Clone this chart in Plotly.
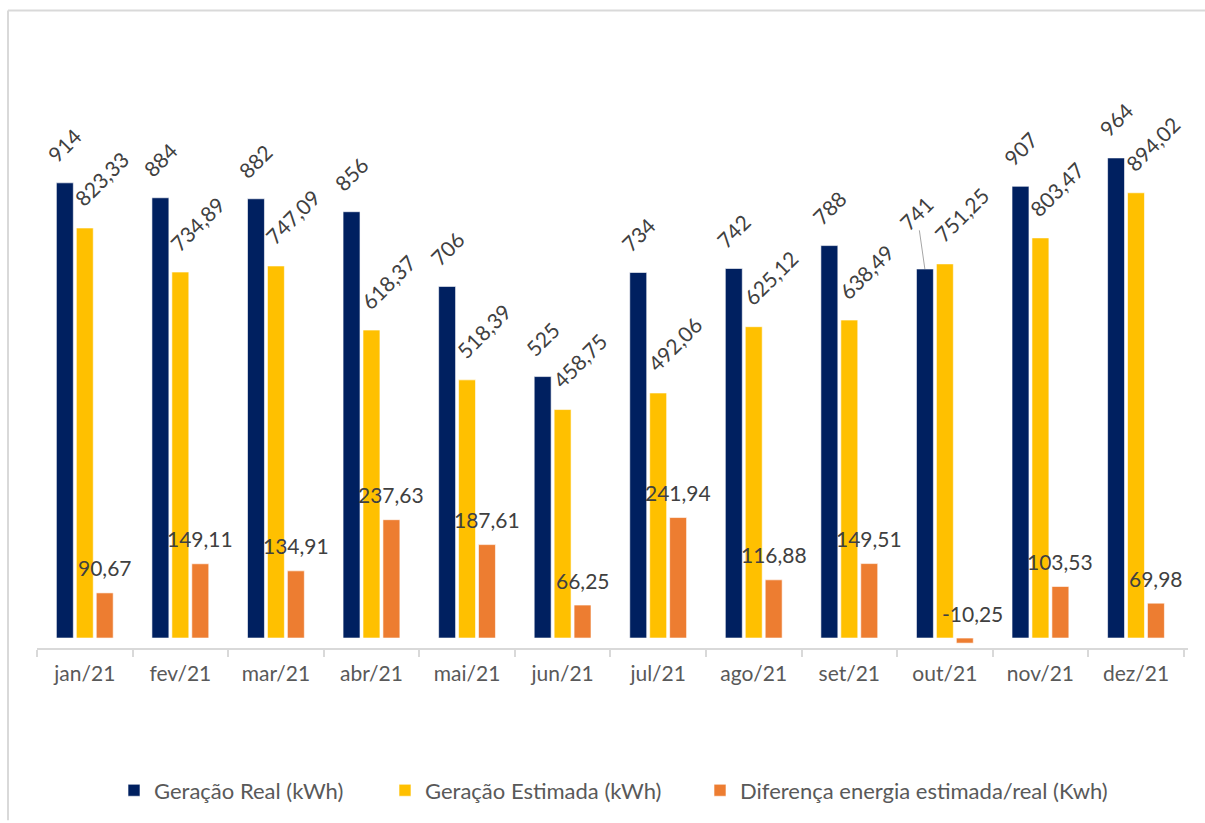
import plotly.graph_objects as go

# Monthly solar generation, 2021
months = ["jan/21", "fev/21", "mar/21", "abr/21", "mai/21", "jun/21",
          "jul/21", "ago/21", "set/21", "out/21", "nov/21", "dez/21"]
geracao_real = [914, 884, 882, 856, 706, 525, 734, 742, 788, 741, 907, 964]
geracao_estimada = [823.33, 734.89, 747.09, 618.37, 518.39, 458.75,
                    492.06, 625.12, 638.49, 751.25, 803.47, 894.02]
diferenca = [90.67, 149.11, 134.91, 237.63, 187.61, 66.25,
             241.94, 116.88, 149.51, -10.25, 103.53, 69.98]
series_names = ["Geração Real (kWh)", "Geração Estimada (kWh)",
                "Diferença energia estimada/real (Kwh)"]

C_REAL = "#002060"
C_EST = "#FFC000"
C_DIFF = "#ED7D31"
TXT = "#404040"
AXT = "#595959"
FONT = "Lato"
LBL = 21

# plot-area geometry in pixels, used to place paper-referenced items
L, B, W, H = 37, 650, 1151, 510
def px(x): return (x - L) / W
def py(y): return (B - y) / H


def br(v, dec=2):
    return f"{v:.{dec}f}".replace(".", ",")


fig = go.Figure()
legend_ids = ["legend", "legend2", "legend3"]
for name, vals, col, lg in zip(series_names,
                               [geracao_real, geracao_estimada, diferenca],
                               [C_REAL, C_EST, C_DIFF], legend_ids):
    fig.add_trace(go.Bar(
        x=months, y=vals, name=name, legend=lg,
        marker=dict(color=col, line=dict(color="rgba(255,255,255,0.6)", width=1)),
        hoverinfo="skip",
    ))

lbl_font = dict(family=FONT, size=LBL, color=TXT)
ann = []
for i, m in enumerate(months):
    # real generation: rotated above the bar
    if m == "out/21":
        ann.append(dict(x=m, y=geracao_real[i], xref="x", yref="y", xshift=-20,
                        text=str(geracao_real[i]), textangle=-45,
                        showarrow=True, arrowhead=0, arrowwidth=1,
                        arrowcolor="#a6a6a6", ax=-8, ay=-56, font=lbl_font))
    else:
        ann.append(dict(x=m, y=geracao_real[i], xref="x", yref="y",
                        xshift=-20, yshift=38, text=str(geracao_real[i]),
                        textangle=-45, showarrow=False,
                        xanchor="center", yanchor="middle", font=lbl_font))
    # estimated generation: rotated, up and to the right
    ann.append(dict(x=m, y=geracao_estimada[i], xref="x", yref="y",
                    xshift=17, yshift=49, text=br(geracao_estimada[i]),
                    textangle=-45, showarrow=False,
                    xanchor="center", yanchor="middle", font=lbl_font))
    # difference: horizontal, centred above the bar
    ann.append(dict(x=m, y=max(diferenca[i], 0), xref="x", yref="y",
                    xshift=20 + (8 if diferenca[i] < 0 else 0), yshift=25,
                    text=br(diferenca[i]), showarrow=False,
                    xanchor="center", yanchor="middle", font=lbl_font))

# chart frame (left and top edges)
shapes = [
    dict(type="line", xref="paper", yref="paper", x0=px(8), x1=px(8),
         y0=py(10), y1=py(823), line=dict(color="#d9d9d9", width=2)),
    dict(type="line", xref="paper", yref="paper", x0=px(8), x1=px(1205),
         y0=py(10), y1=py(10), line=dict(color="#d9d9d9", width=2)),
]

leg_common = dict(orientation="h", xanchor="left", y=py(793), yanchor="middle",
                  font=dict(family=FONT, size=22, color=AXT),
                  bgcolor="rgba(0,0,0,0)")
leg_left = [114, 385, 700]

fig.update_layout(
    width=1205, height=823,
    margin=dict(l=37, r=17, t=140, b=173),
    paper_bgcolor="white", plot_bgcolor="white",
    barmode="group", bargap=0.374, bargroupgap=0.15,
    font=dict(family=FONT, size=LBL, color=AXT),
    showlegend=True,
    legend=dict(x=px(leg_left[0]), **leg_common),
    legend2=dict(x=px(leg_left[1]), **leg_common),
    legend3=dict(x=px(leg_left[2]), **leg_common),
    annotations=ann,
    shapes=shapes,
)
fig.update_xaxes(
    type="category", showgrid=False, showline=True, linecolor="#d9d9d9",
    linewidth=2, ticks="outside", tickson="boundaries", ticklen=7,
    tickcolor="#d9d9d9", tickwidth=2, ticklabelstandoff=6,
    tickfont=dict(family=FONT, size=21, color=AXT),
)
fig.update_yaxes(range=[-20, 1000], visible=False, zeroline=False, showgrid=False)

fig.write_html("out.html")
